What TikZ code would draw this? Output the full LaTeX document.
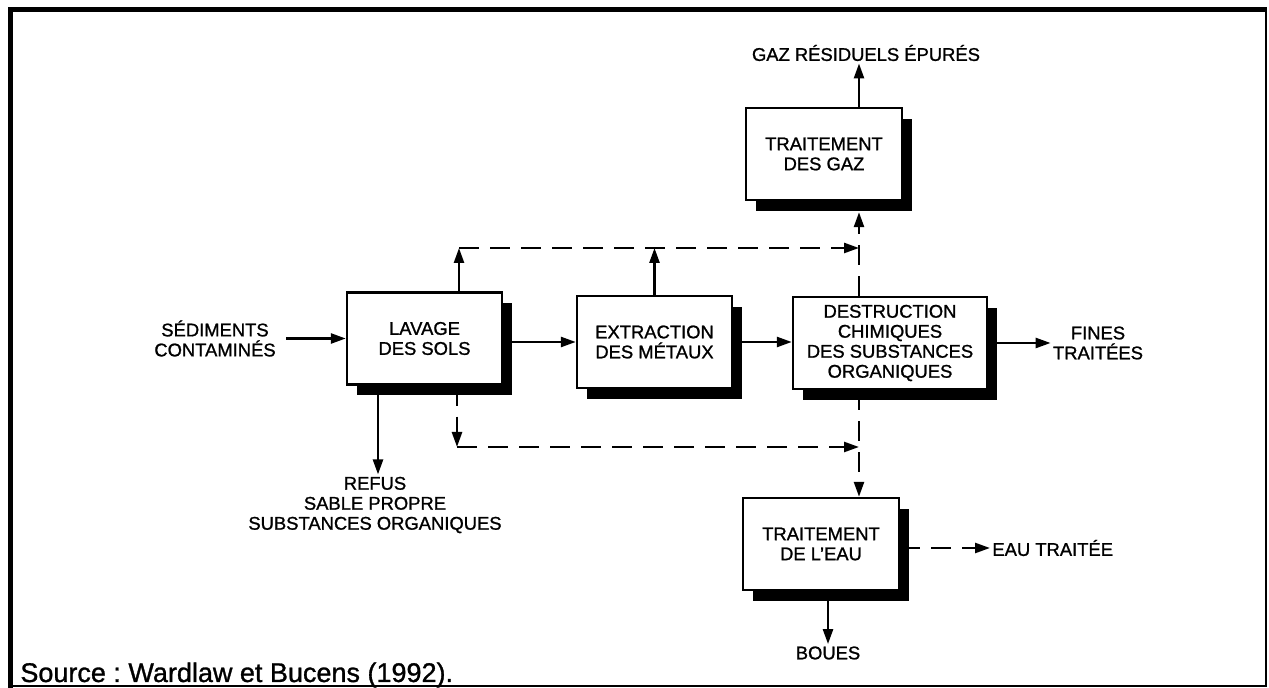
\documentclass[tikz,border=0pt]{standalone}
\usepackage{fontspec}
\setmainfont{Liberation Sans}[FakeBold=1.1]
\usetikzlibrary{arrows.meta,shadows}
\frenchspacing

\begin{document}
\begin{tikzpicture}[
  x=0.5pt, y=-0.5pt,
  font=\fontsize{9.2}{10}\selectfont,
  unit/.style={draw, line width=1.2pt, fill=white, align=center, inner sep=0pt,
    minimum height=46pt,
    drop shadow={shadow xshift=5pt, shadow yshift=-5.5pt, fill=black, opacity=1}},
  txt/.style={align=center, inner sep=1pt},
  flow/.style={->, line width=1.25pt},
  dashflow/.style={flow, dash pattern=on 10pt off 5.5pt},
  >={Triangle[length=7.5pt,width=5pt]}
]
\useasboundingbox (0,0) rectangle (1269,688);
\draw[line width=2.5pt] (8,10) -- (1267,10);
\draw[line width=2.5pt] (10,10) -- (10,688);
\draw[line width=0.8pt] (1266,10) -- (1266,687);
\draw[line width=1pt] (10,686.5) -- (1266,686.5);
\node[unit, minimum width=77.5pt] (lav) at (424.5,338.5) {LAVAGE\\DES SOLS};
\node[unit, minimum width=77.5pt] (ext) at (654.5,342) {EXTRACTION\\DES MÉTAUX};
\node[unit, minimum width=97pt] (dest) at (890,343) {DESTRUCTION\\CHIMIQUES\\DES SUBSTANCES\\ORGANIQUES};
\node[unit, minimum width=78pt] (gaz) at (824,154) {TRAITEMENT\\DES GAZ};
\node[unit, minimum width=78pt] (eau) at (821,544) {TRAITEMENT\\DE L'EAU};
\node[txt] (sed) at (215,338.5) {SÉDIMENTS\\CONTAMINÉS};
\node[txt] (fines) at (1098,343) {FINES\\TRAITÉES};
\node[txt] (gazout) at (866,53) {GAZ RÉSIDUELS ÉPURÉS};
\node[txt] (refus) at (375,505) {REFUS\\SABLE PROPRE\\SUBSTANCES ORGANIQUES};
\node[txt] (boues) at (828,653) {BOUES};
\node[txt, anchor=west] (eauout) at (990,548) {EAU TRAITÉE};
\node[anchor=base west, inner sep=0pt, font=\fontsize{13.5}{15}\selectfont] (src) at (20,682) {Source : Wardlaw et Bucens (1992).};
\coordinate (jt) at (859,248);
\coordinate (jb) at (859,447);
\coordinate (lt) at (459,248);
\coordinate (lb) at (457,447);
\draw[flow, shorten <=4pt] (sed.east) -- (sed.east -| lav.west);
\draw[flow] (lav.east |- ext.west) -- (ext.west);
\draw[flow] (ext.east) -- (ext.east -| dest.west);
\draw[flow] (dest.east) -- (dest.east -| fines.west);
\draw[flow] (lav.north -| lt) -- (lt);
\draw[flow] (ext.north) -- (ext.north |- lt);
\draw[dashflow] (lt) -- (jt);
\draw[flow] (lav.south -| 378,0) -- (refus.north -| 378,0);
\draw[dashflow] (lav.south -| lb) -- (lb);
\draw[dashflow] (lb) -- (jb);
\draw[dashflow, shorten >=5.5pt] (dest.north -| jt) -- (gaz.south -| jt);
\draw[dashflow] (dest.south -| jb) -- (eau.north -| jb);
\draw[flow] (gaz.north -| jt) -- (gazout.south -| jt);
\draw[dashflow] (eau.east |- eauout) -- (eauout.west);
\draw[flow] (eau.south -| boues) -- (boues.north);
\end{tikzpicture}
\end{document}
